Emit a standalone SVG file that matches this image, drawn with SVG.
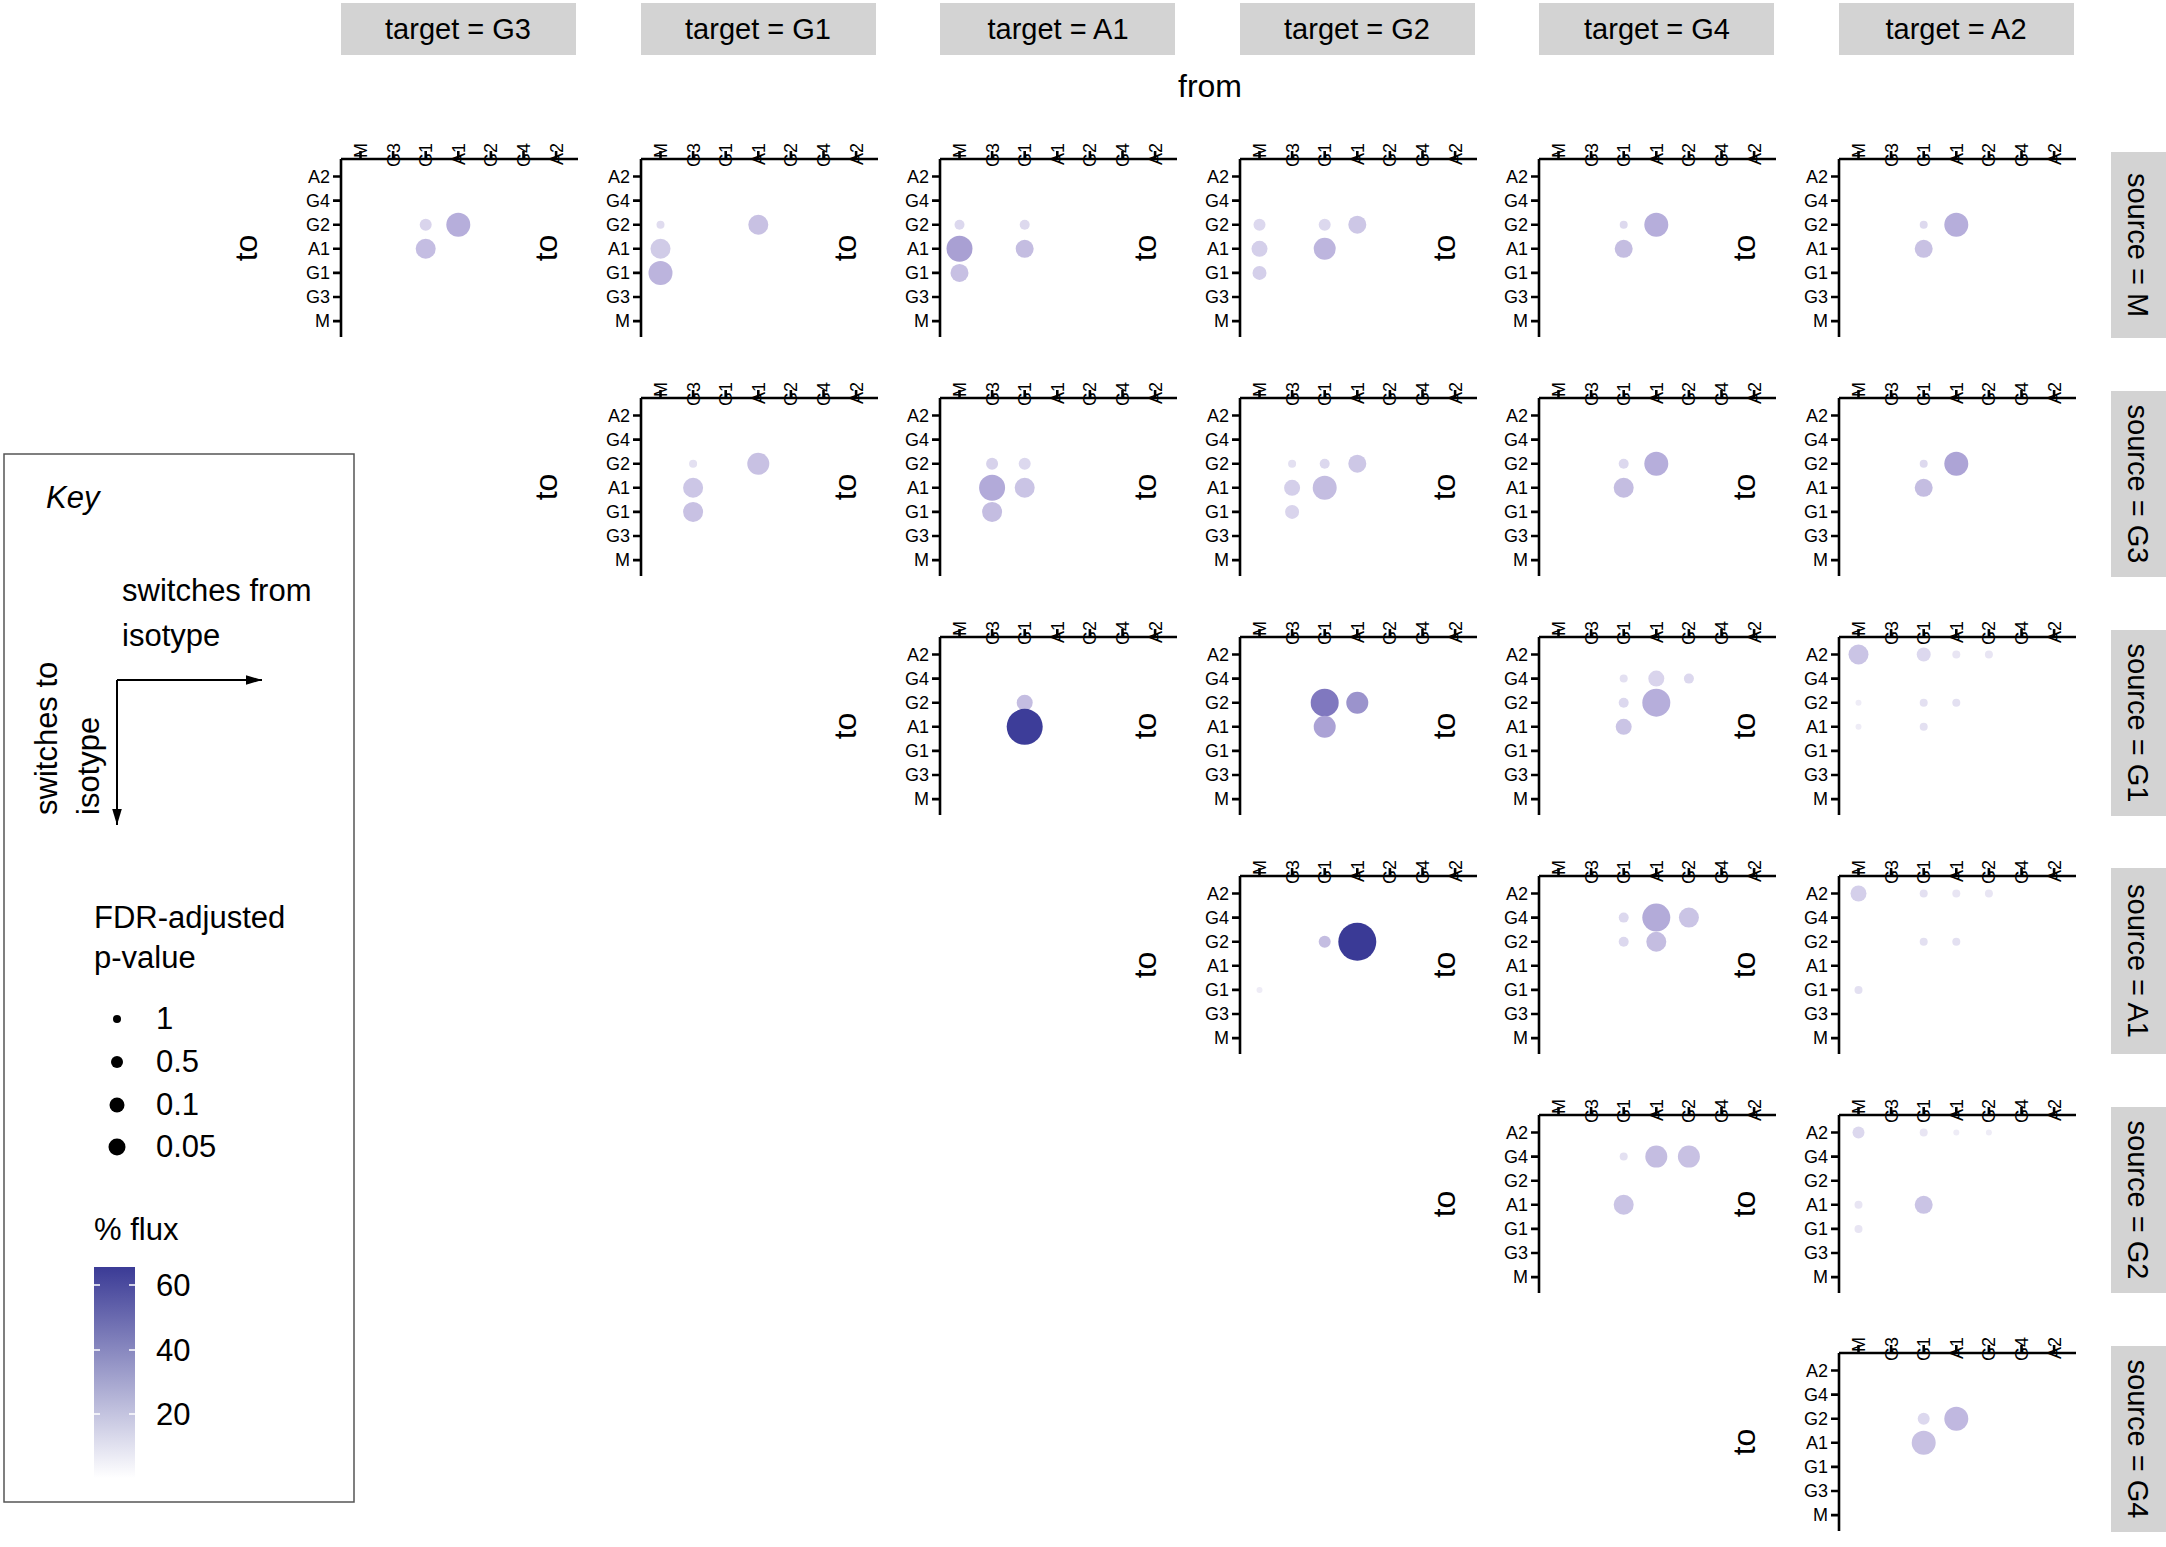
<svg xmlns="http://www.w3.org/2000/svg" width="2166" height="1547" viewBox="0 0 2166 1547">
<style>
text{font-family:"Liberation Sans",Arial,sans-serif;fill:#000}
.ax{stroke:#000;stroke-width:2.6;fill:none}
.tl{font-size:18px}
.hd{fill:#d3d3d3}
.ht{font-size:29px;text-anchor:middle}
.big{font-size:32px}
.kt{font-size:31px}
</style>
<defs>
<g id="axes">
<path class="ax" d="M0,0H237M0,0V178M19.5,0V-8M52.1,0V-8M84.7,0V-8M117.3,0V-8M149.9,0V-8M182.5,0V-8M215.1,0V-8M0,17.5H-8M0,41.6H-8M0,65.7H-8M0,89.8H-8M0,113.9H-8M0,138H-8M0,162.1H-8"/>
<g class="tl" text-anchor="end">
<text transform="translate(26,-16) rotate(-90)">M</text>
<text transform="translate(58.6,-16) rotate(-90)">G3</text>
<text transform="translate(91.2,-16) rotate(-90)">G1</text>
<text transform="translate(123.8,-16) rotate(-90)">A1</text>
<text transform="translate(156.4,-16) rotate(-90)">G2</text>
<text transform="translate(189,-16) rotate(-90)">G4</text>
<text transform="translate(221.6,-16) rotate(-90)">A2</text>
<text x="-11" y="24">A2</text>
<text x="-11" y="48">G4</text>
<text x="-11" y="72">G2</text>
<text x="-11" y="96">A1</text>
<text x="-11" y="120">G1</text>
<text x="-11" y="144">G3</text>
<text x="-11" y="168">M</text>
</g>
<text class="big" transform="translate(-84,89) rotate(-90)" text-anchor="middle">to</text>
</g>
<linearGradient id="flux" x1="0" y1="0" x2="0" y2="1">
<stop offset="0" stop-color="#3b3b96"/><stop offset="1" stop-color="#ffffff"/>
</linearGradient>
<marker id="ah" viewBox="0 0 10 10" refX="10" refY="5" markerWidth="8" markerHeight="8" orient="auto"><path d="M0,2L10,5L0,8z" fill="#000"/></marker>
</defs>

<g id="headers">
<rect class="hd" x="341" y="3" width="235" height="52"/><text class="ht" x="458" y="39">target = G3</text>
<rect class="hd" x="641" y="3" width="235" height="52"/><text class="ht" x="758" y="39">target = G1</text>
<rect class="hd" x="940" y="3" width="235" height="52"/><text class="ht" x="1058" y="39">target = A1</text>
<rect class="hd" x="1240" y="3" width="235" height="52"/><text class="ht" x="1357" y="39">target = G2</text>
<rect class="hd" x="1539" y="3" width="235" height="52"/><text class="ht" x="1657" y="39">target = G4</text>
<rect class="hd" x="1839" y="3" width="235" height="52"/><text class="ht" x="1956" y="39">target = A2</text>
<text class="big" x="1210" y="97" text-anchor="middle">from</text>
</g>
<g id="strips">
<rect class="hd" x="2111" y="152" width="55" height="186"/><text class="ht" transform="translate(2128,245) rotate(90)">source = M</text>
<rect class="hd" x="2111" y="391" width="55" height="186"/><text class="ht" transform="translate(2128,484) rotate(90)">source = G3</text>
<rect class="hd" x="2111" y="630" width="55" height="186"/><text class="ht" transform="translate(2128,723) rotate(90)">source = G1</text>
<rect class="hd" x="2111" y="868" width="55" height="186"/><text class="ht" transform="translate(2128,961) rotate(90)">source = A1</text>
<rect class="hd" x="2111" y="1107" width="55" height="186"/><text class="ht" transform="translate(2128,1200) rotate(90)">source = G2</text>
<rect class="hd" x="2111" y="1346" width="55" height="186"/><text class="ht" transform="translate(2128,1439) rotate(90)">source = G4</text>
</g>

<!-- row 0 -->
<g id="p00" transform="translate(341,159)"><use href="#axes"/>
<circle cx="84.7" cy="65.7" r="6" fill="#d9d4ec"/><circle cx="117.3" cy="65.7" r="12" fill="#b6aedb"/><circle cx="84.7" cy="89.8" r="10" fill="#c4bde2"/></g>
<g id="p10" transform="translate(641,159)"><use href="#axes"/>
<circle cx="19.5" cy="65.7" r="4" fill="#e0dcef"/><circle cx="19.5" cy="89.8" r="10" fill="#d0cbe7"/><circle cx="19.5" cy="113.9" r="12" fill="#bcb4dd"/><circle cx="117.3" cy="65.7" r="10" fill="#c8c1e3"/></g>
<g id="p20" transform="translate(940,159)"><use href="#axes"/>
<circle cx="19.5" cy="65.7" r="5" fill="#dcd8ee"/><circle cx="19.5" cy="89.8" r="13" fill="#a9a0d3"/><circle cx="19.5" cy="113.9" r="9" fill="#c7c0e3"/><circle cx="84.7" cy="65.7" r="5" fill="#ddd9ee"/><circle cx="84.7" cy="89.8" r="9" fill="#c4bde1"/></g>
<g id="p30" transform="translate(1240,159)"><use href="#axes"/>
<circle cx="19.5" cy="65.7" r="6" fill="#dcd8ee"/><circle cx="19.5" cy="89.8" r="8" fill="#d4cfea"/><circle cx="19.5" cy="113.9" r="7" fill="#d4cfea"/><circle cx="84.7" cy="65.7" r="6" fill="#dcd8ee"/><circle cx="84.7" cy="89.8" r="11" fill="#bdb5de"/><circle cx="117.3" cy="65.7" r="9" fill="#cdc7e6"/></g>
<g id="p40" transform="translate(1539,159)"><use href="#axes"/>
<circle cx="84.7" cy="65.7" r="4" fill="#ddd9ee"/><circle cx="84.7" cy="89.8" r="9" fill="#c4bde1"/><circle cx="117.3" cy="65.7" r="12" fill="#b6aedb"/></g>
<g id="p50" transform="translate(1839,159)"><use href="#axes"/>
<circle cx="84.7" cy="65.7" r="4" fill="#ddd9ee"/><circle cx="84.7" cy="89.8" r="9" fill="#c8c1e3"/><circle cx="117.3" cy="65.7" r="12" fill="#b6aedb"/></g>

<!-- row 1 -->
<g id="p11" transform="translate(641,398)"><use href="#axes"/>
<circle cx="52.1" cy="65.7" r="4" fill="#e3e0f1"/><circle cx="52.1" cy="89.8" r="10" fill="#ccc6e6"/><circle cx="52.1" cy="113.9" r="10" fill="#c8c1e3"/><circle cx="117.3" cy="65.7" r="11" fill="#c8c1e3"/></g>
<g id="p21" transform="translate(940,398)"><use href="#axes"/>
<circle cx="52.1" cy="65.7" r="6" fill="#d7d2eb"/><circle cx="52.1" cy="89.8" r="13" fill="#b2aad9"/><circle cx="52.1" cy="113.9" r="10" fill="#c4bde1"/><circle cx="84.7" cy="65.7" r="6" fill="#dcd8ee"/><circle cx="84.7" cy="89.8" r="10" fill="#cac4e5"/></g>
<g id="p31" transform="translate(1240,398)"><use href="#axes"/>
<circle cx="52.1" cy="65.7" r="4" fill="#e3e0f1"/><circle cx="52.1" cy="89.8" r="8" fill="#d4cfea"/><circle cx="52.1" cy="113.9" r="7" fill="#d9d4ec"/><circle cx="84.7" cy="65.7" r="5" fill="#dcd8ee"/><circle cx="84.7" cy="89.8" r="12" fill="#c4bde1"/><circle cx="117.3" cy="65.7" r="9" fill="#cdc7e6"/></g>
<g id="p41" transform="translate(1539,398)"><use href="#axes"/>
<circle cx="84.7" cy="65.7" r="5" fill="#dcd8ee"/><circle cx="84.7" cy="89.8" r="10" fill="#c4bde1"/><circle cx="117.3" cy="65.7" r="12" fill="#b6aedb"/></g>
<g id="p51" transform="translate(1839,398)"><use href="#axes"/>
<circle cx="84.7" cy="65.7" r="4" fill="#ddd9ee"/><circle cx="84.7" cy="89.8" r="9" fill="#c4bde1"/><circle cx="117.3" cy="65.7" r="12" fill="#ada4d6"/></g>

<!-- row 2 -->
<g id="p22" transform="translate(940,637)"><use href="#axes"/>
<circle cx="84.7" cy="65.7" r="8" fill="#c4bde1"/><circle cx="84.7" cy="89.8" r="18" fill="#3d3d99"/></g>
<g id="p32" transform="translate(1240,637)"><use href="#axes"/>
<circle cx="84.7" cy="65.7" r="14" fill="#8078bf"/><circle cx="84.7" cy="89.8" r="11" fill="#aba2d5"/><circle cx="117.3" cy="65.7" r="11" fill="#9b93cc"/></g>
<g id="p42" transform="translate(1539,637)"><use href="#axes"/>
<circle cx="84.7" cy="41.6" r="4" fill="#e3e0f1"/><circle cx="117.3" cy="41.6" r="8" fill="#d9d4ec"/><circle cx="149.9" cy="41.6" r="5" fill="#dcd8ee"/><circle cx="84.7" cy="65.7" r="5" fill="#dcd8ee"/><circle cx="117.3" cy="65.7" r="14" fill="#b6aedb"/><circle cx="84.7" cy="89.8" r="8" fill="#cac4e5"/></g>
<g id="p52" transform="translate(1839,637)"><use href="#axes"/>
<circle cx="19.5" cy="17.5" r="10" fill="#cac4e5"/><circle cx="84.7" cy="17.5" r="7" fill="#dcd8ee"/><circle cx="117.3" cy="17.5" r="4" fill="#e8e5f3"/><circle cx="149.9" cy="17.5" r="4" fill="#e8e5f3"/><circle cx="84.7" cy="65.7" r="4" fill="#e3e0f1"/><circle cx="117.3" cy="65.7" r="4" fill="#e3e0f1"/><circle cx="84.7" cy="89.8" r="4" fill="#e3e0f1"/><circle cx="19.5" cy="65.7" r="3" fill="#eeecf6"/><circle cx="19.5" cy="89.8" r="3" fill="#eeecf6"/></g>

<!-- row 3 -->
<g id="p33" transform="translate(1240,876)"><use href="#axes"/>
<circle cx="84.7" cy="65.7" r="6" fill="#c4bde1"/><circle cx="117.3" cy="65.7" r="19" fill="#3a3a96"/><circle cx="19.5" cy="113.9" r="3" fill="#eeecf6"/></g>
<g id="p43" transform="translate(1539,876)"><use href="#axes"/>
<circle cx="84.7" cy="41.6" r="5" fill="#dcd8ee"/><circle cx="117.3" cy="41.6" r="14" fill="#b3abd9"/><circle cx="149.9" cy="41.6" r="10" fill="#cac4e5"/><circle cx="84.7" cy="65.7" r="5" fill="#dcd8ee"/><circle cx="117.3" cy="65.7" r="10" fill="#c4bde1"/></g>
<g id="p53" transform="translate(1839,876)"><use href="#axes"/>
<circle cx="19.5" cy="17.5" r="8" fill="#d4cfea"/><circle cx="84.7" cy="17.5" r="4" fill="#e3e0f1"/><circle cx="117.3" cy="17.5" r="4" fill="#e8e5f3"/><circle cx="149.9" cy="17.5" r="4" fill="#e8e5f3"/><circle cx="84.7" cy="65.7" r="4" fill="#e3e0f1"/><circle cx="117.3" cy="65.7" r="4" fill="#e3e0f1"/><circle cx="19.5" cy="113.9" r="4" fill="#e3e0f1"/></g>

<!-- row 4 -->
<g id="p44" transform="translate(1539,1115)"><use href="#axes"/>
<circle cx="84.7" cy="41.6" r="4" fill="#e3e0f1"/><circle cx="117.3" cy="41.6" r="11" fill="#c4bde1"/><circle cx="149.9" cy="41.6" r="11" fill="#c8c1e3"/><circle cx="84.7" cy="89.8" r="10" fill="#cac4e5"/></g>
<g id="p54" transform="translate(1839,1115)"><use href="#axes"/>
<circle cx="19.5" cy="17.5" r="6" fill="#dcd8ee"/><circle cx="84.7" cy="17.5" r="4" fill="#e8e5f3"/><circle cx="117.3" cy="17.5" r="3" fill="#eeecf6"/><circle cx="149.9" cy="17.5" r="3" fill="#eeecf6"/><circle cx="19.5" cy="89.8" r="4" fill="#e8e5f3"/><circle cx="19.5" cy="113.9" r="4" fill="#e8e5f3"/><circle cx="84.7" cy="89.8" r="9" fill="#cac4e5"/></g>

<!-- row 5 -->
<g id="p55" transform="translate(1839,1353)"><use href="#axes"/>
<circle cx="84.7" cy="65.7" r="6" fill="#dcd8ee"/><circle cx="117.3" cy="65.7" r="12" fill="#c0b8e0"/><circle cx="84.7" cy="89.8" r="12" fill="#c8c1e3"/></g>

<g id="key">
<rect x="4" y="454" width="350" height="1048" fill="#fff" stroke="#555" stroke-width="1.5"/>
<text class="kt" x="46" y="508" font-style="italic">Key</text>
<text class="kt" x="122" y="601">switches from</text>
<text class="kt" x="122" y="646">isotype</text>
<text class="kt" transform="translate(57,815) rotate(-90)">switches to</text>
<text class="kt" transform="translate(99,815) rotate(-90)">isotype</text>
<text class="kt" x="94" y="928">FDR-adjusted</text>
<text class="kt" x="94" y="968">p-value</text>
<circle cx="117" cy="1019" r="4" fill="#000"/><text class="kt" x="156" y="1029">1</text>
<circle cx="117" cy="1062" r="6" fill="#000"/><text class="kt" x="156" y="1072">0.5</text>
<circle cx="117" cy="1105" r="7.5" fill="#000"/><text class="kt" x="156" y="1115">0.1</text>
<circle cx="117" cy="1147" r="8.5" fill="#000"/><text class="kt" x="156" y="1157">0.05</text>
<text class="kt" x="94" y="1240">% flux</text>
<rect x="94" y="1267" width="41" height="211" fill="url(#flux)"/>
<path d="M94,1285h6M129,1285h6M94,1350h6M129,1350h6M94,1414h6M129,1414h6" stroke="#fff" stroke-width="1.5"/>
<text class="kt" x="156" y="1296">60</text>
<text class="kt" x="156" y="1361">40</text>
<text class="kt" x="156" y="1425">20</text>
</g>
<g id="connectors">
<path d="M117,680H262" stroke="#000" stroke-width="2" marker-end="url(#ah)"/>
<path d="M117,680V825" stroke="#000" stroke-width="2" marker-end="url(#ah)"/>
</g>
</svg>
